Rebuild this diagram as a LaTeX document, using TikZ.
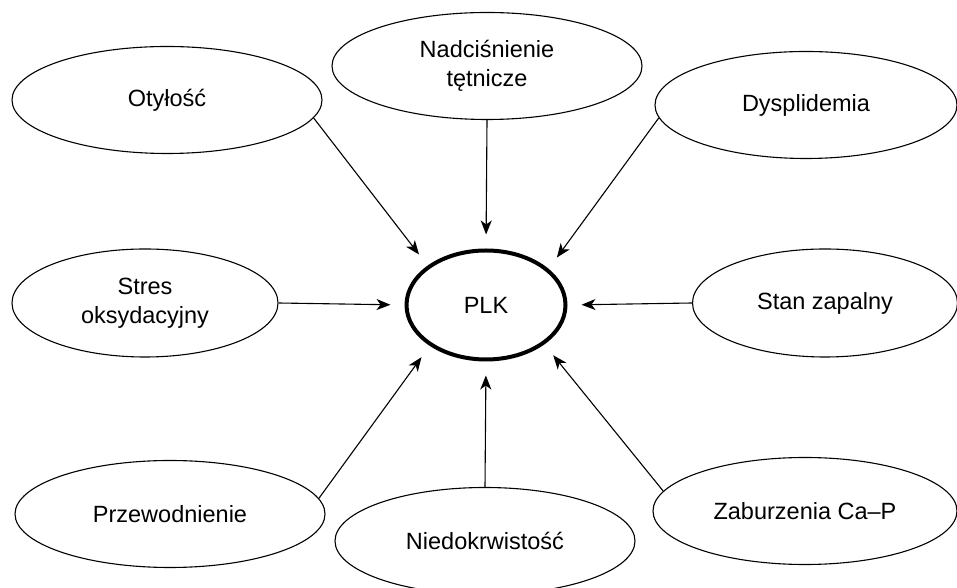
\documentclass[tikz,border=0pt]{standalone}
\usepackage{fontspec}
\setmainfont{Liberation Sans}
\usetikzlibrary{shapes.geometric, arrows.meta}

\begin{document}
\begin{tikzpicture}[
        x=1pt, y=1pt,
        factor/.style={ellipse, draw=black, line width=1.1pt, minimum width=310pt, minimum height=107pt, inner sep=0pt, align=center, font=\fontsize{23.5}{28.5}\selectfont},
        plkbox/.style={ellipse, draw=black, line width=4pt, minimum width=159pt, minimum height=109pt, inner sep=0pt, align=center, font=\fontsize{23.5}{28.5}\selectfont},
        arrow/.style={-{Stealth[length=14pt, width=11pt, inset=4pt]}, line width=1.1pt, shorten >=14pt}
    ]
        \clip (0,0) rectangle (957,588);

        \node[plkbox] (plk) at (486,283) {PLK};

        \node[factor] (otylosc) at (167,488) {Otyłość};
        \node[factor] (nadcisnienie) at (487,522) {Nadciśnienie\\tętnicze};
        \node[factor, minimum width=302pt] (dysplidemia) at (806,483) {Dysplidemia};
        \node[factor, minimum width=266pt, minimum height=108pt] (stres) at (145,285) {Stres\\oksydacyjny};
        \node[factor, minimum width=265pt, minimum height=108pt] (stan) at (825,285) {Stan zapalny};
        \node[factor] (przewodnienie) at (170,74) {Przewodnienie};
        \node[factor, minimum width=300pt] (niedokrwistosc) at (485,47) {Niedokrwistość};
        \node[factor, minimum width=304pt] (zaburzenia) at (805,77) {Zaburzenia Ca--P};

        \draw[arrow] (otylosc.-7) -- (plk.146);
        \draw[arrow] (nadcisnienie.south) -- (plk.north);
        \draw[arrow] (dysplidemia.185) -- (plk.30);
        \draw[arrow] (stres.east) -- (plk.west);
        \draw[arrow] (stan.west) -- (plk.east);
        \draw[arrow] (przewodnienie.6.5) -- (plk.216);
        \draw[arrow] (niedokrwistosc.north) -- (plk.south);
        \draw[arrow] (zaburzenia.172.5) -- (plk.326);
    \end{tikzpicture}
\end{document}
